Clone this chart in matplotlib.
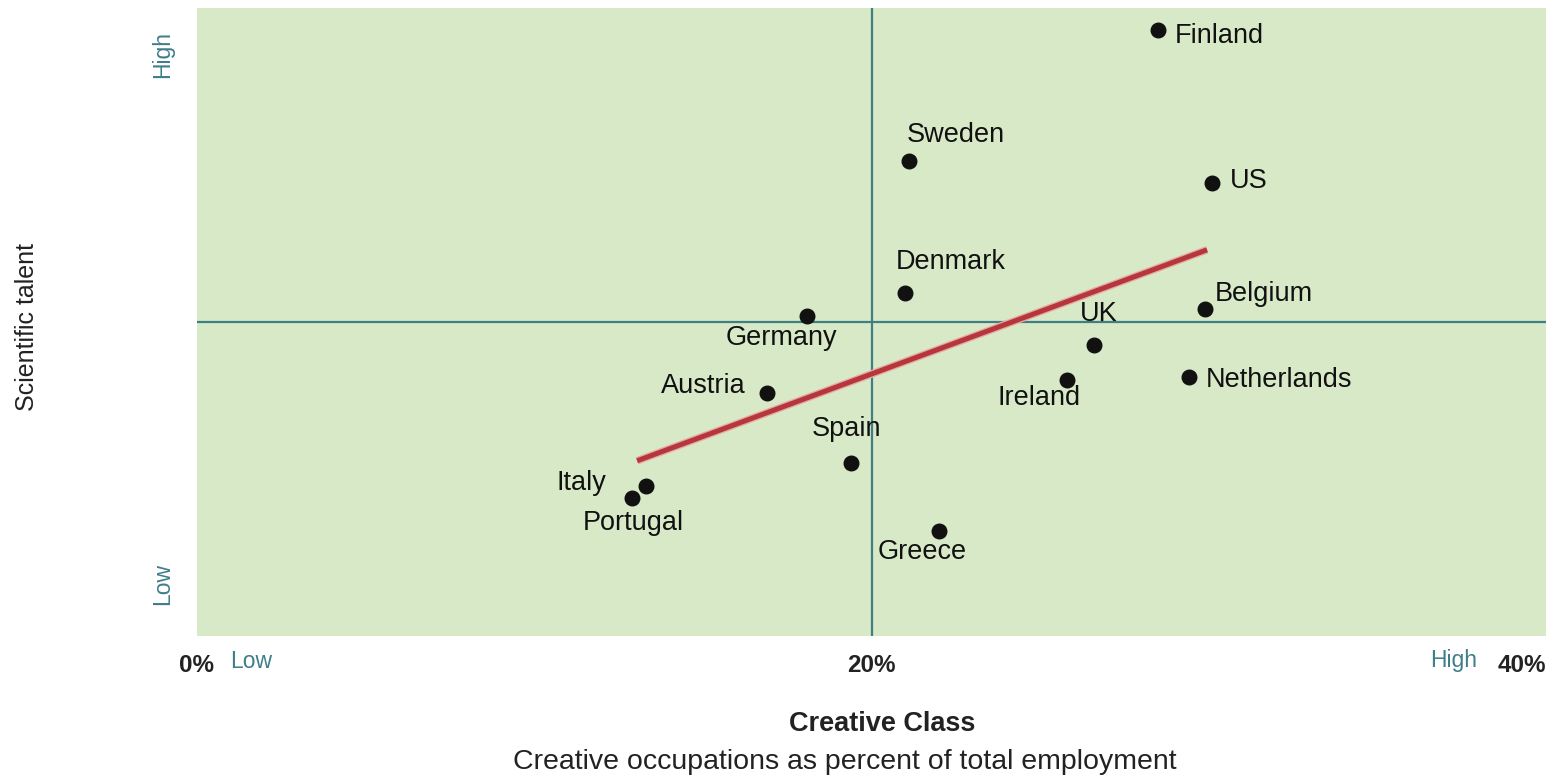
import matplotlib
matplotlib.use("Agg")
import matplotlib.pyplot as plt
import matplotlib.patheffects as pe

plt.rcParams['font.family'] = ['Liberation Sans', 'DejaVu Sans']

countries = ["Finland", "Sweden", "US", "Denmark", "Belgium", "Germany", "UK",
             "Ireland", "Netherlands", "Austria", "Spain", "Italy", "Portugal", "Greece"]
creative = [28.5, 21.1, 30.1, 21.0, 29.9, 18.1, 26.6, 25.8, 29.4, 16.9, 19.4, 13.3, 12.9, 22.0]
talent = [96.5, 75.6, 72.1, 54.6, 52.1, 51.0, 46.3, 40.8, 41.2, 38.7, 27.5, 23.9, 22.0, 16.7]

trend_x = [13.05, 29.95]
trend_y = [27.9, 61.5]

xtick_vals = [0, 20, 40]
xtick_labels = ["0%", "20%", "40%"]

# label offsets in pixels (dx, dy, ha)
label_pos = {
    "Finland": (17, -6, "left"),
    "Sweden": (47, 26, "center"),
    "US": (18, 2, "left"),
    "Denmark": (46, 31, "center"),
    "Belgium": (9, 15, "left"),
    "Germany": (-26, -22, "center"),
    "UK": (5, 31, "center"),
    "Ireland": (-28, -18, "center"),
    "Netherlands": (17, -3, "left"),
    "Austria": (-21, 7, "right"),
    "Spain": (-5, 34, "center"),
    "Italy": (-39, 3, "right"),
    "Portugal": (1, -25, "center"),
    "Greece": (-17, -21, "center"),
}

bg = "#d8e9c7"
teal = "#3f7f84"
txt_teal = "#3f7f8a"

fig = plt.figure(figsize=(15.51, 7.78), dpi=100)
ax = fig.add_axes([197/1551, (778-636)/778, (1546-197)/1551, (636-8)/778])
ax.set_facecolor(bg)
ax.set_xlim(0, 40)
ax.set_ylim(0, 100)
for s in ax.spines.values():
    s.set_visible(False)
ax.tick_params(length=0)
ax.set_yticks([])
ax.set_xticks(xtick_vals)
ax.set_xticklabels(xtick_labels, fontsize=17.5, fontweight='bold')
lbls = ax.get_xticklabels()
lbls[0].set_ha('center')
lbls[2].set_ha('right')
ax.tick_params(axis='x', pad=13, colors="#222222")

ax.axhline(50, color=teal, lw=1.6, zorder=1)
ax.axvline(20, color=teal, lw=1.6, zorder=1)

ax.plot(trend_x, trend_y, color="#b5373c", lw=3.6, solid_capstyle='butt', zorder=2,
        path_effects=[pe.Stroke(linewidth=5.5, foreground="#e8a9a6"), pe.Normal()])

ax.scatter(creative, talent, s=110, color="#111111", zorder=3)

for c, x, y in zip(countries, creative, talent):
    dx, dy, ha = label_pos[c]
    ax.annotate(c, (x, y), xytext=(dx, dy), textcoords='offset pixels',
                ha=ha, va='center', fontsize=19.5, color="#111111", zorder=4)

# axis end labels
fig.text(230/1551, 1-661/778, "Low", color=txt_teal, fontsize=16.5, ha='left', va='center')
fig.text(1477/1551, 1-661/778, "High", color=txt_teal, fontsize=16.5, ha='right', va='center')
fig.text(163/1551, 1-55/778, "High", color=txt_teal, fontsize=16.5, ha='center', va='center', rotation=90)
fig.text(163/1551, 1-584/778, "Low", color=txt_teal, fontsize=16.5, ha='center', va='center', rotation=90)

fig.text(27/1551, 1-327/778, "Scientific talent", fontsize=18, ha='center', va='center',
         rotation=90, color="#222222")
fig.text(882/1551, 1-724/778, "Creative Class", fontsize=19.5, fontweight='bold',
         ha='center', va='center', color="#222222")
fig.text(845/1551, 1-762/778, "Creative occupations as percent of total employment",
         fontsize=20.5, ha='center', va='center', color="#222222")

fig.savefig("out.png", dpi=100)
